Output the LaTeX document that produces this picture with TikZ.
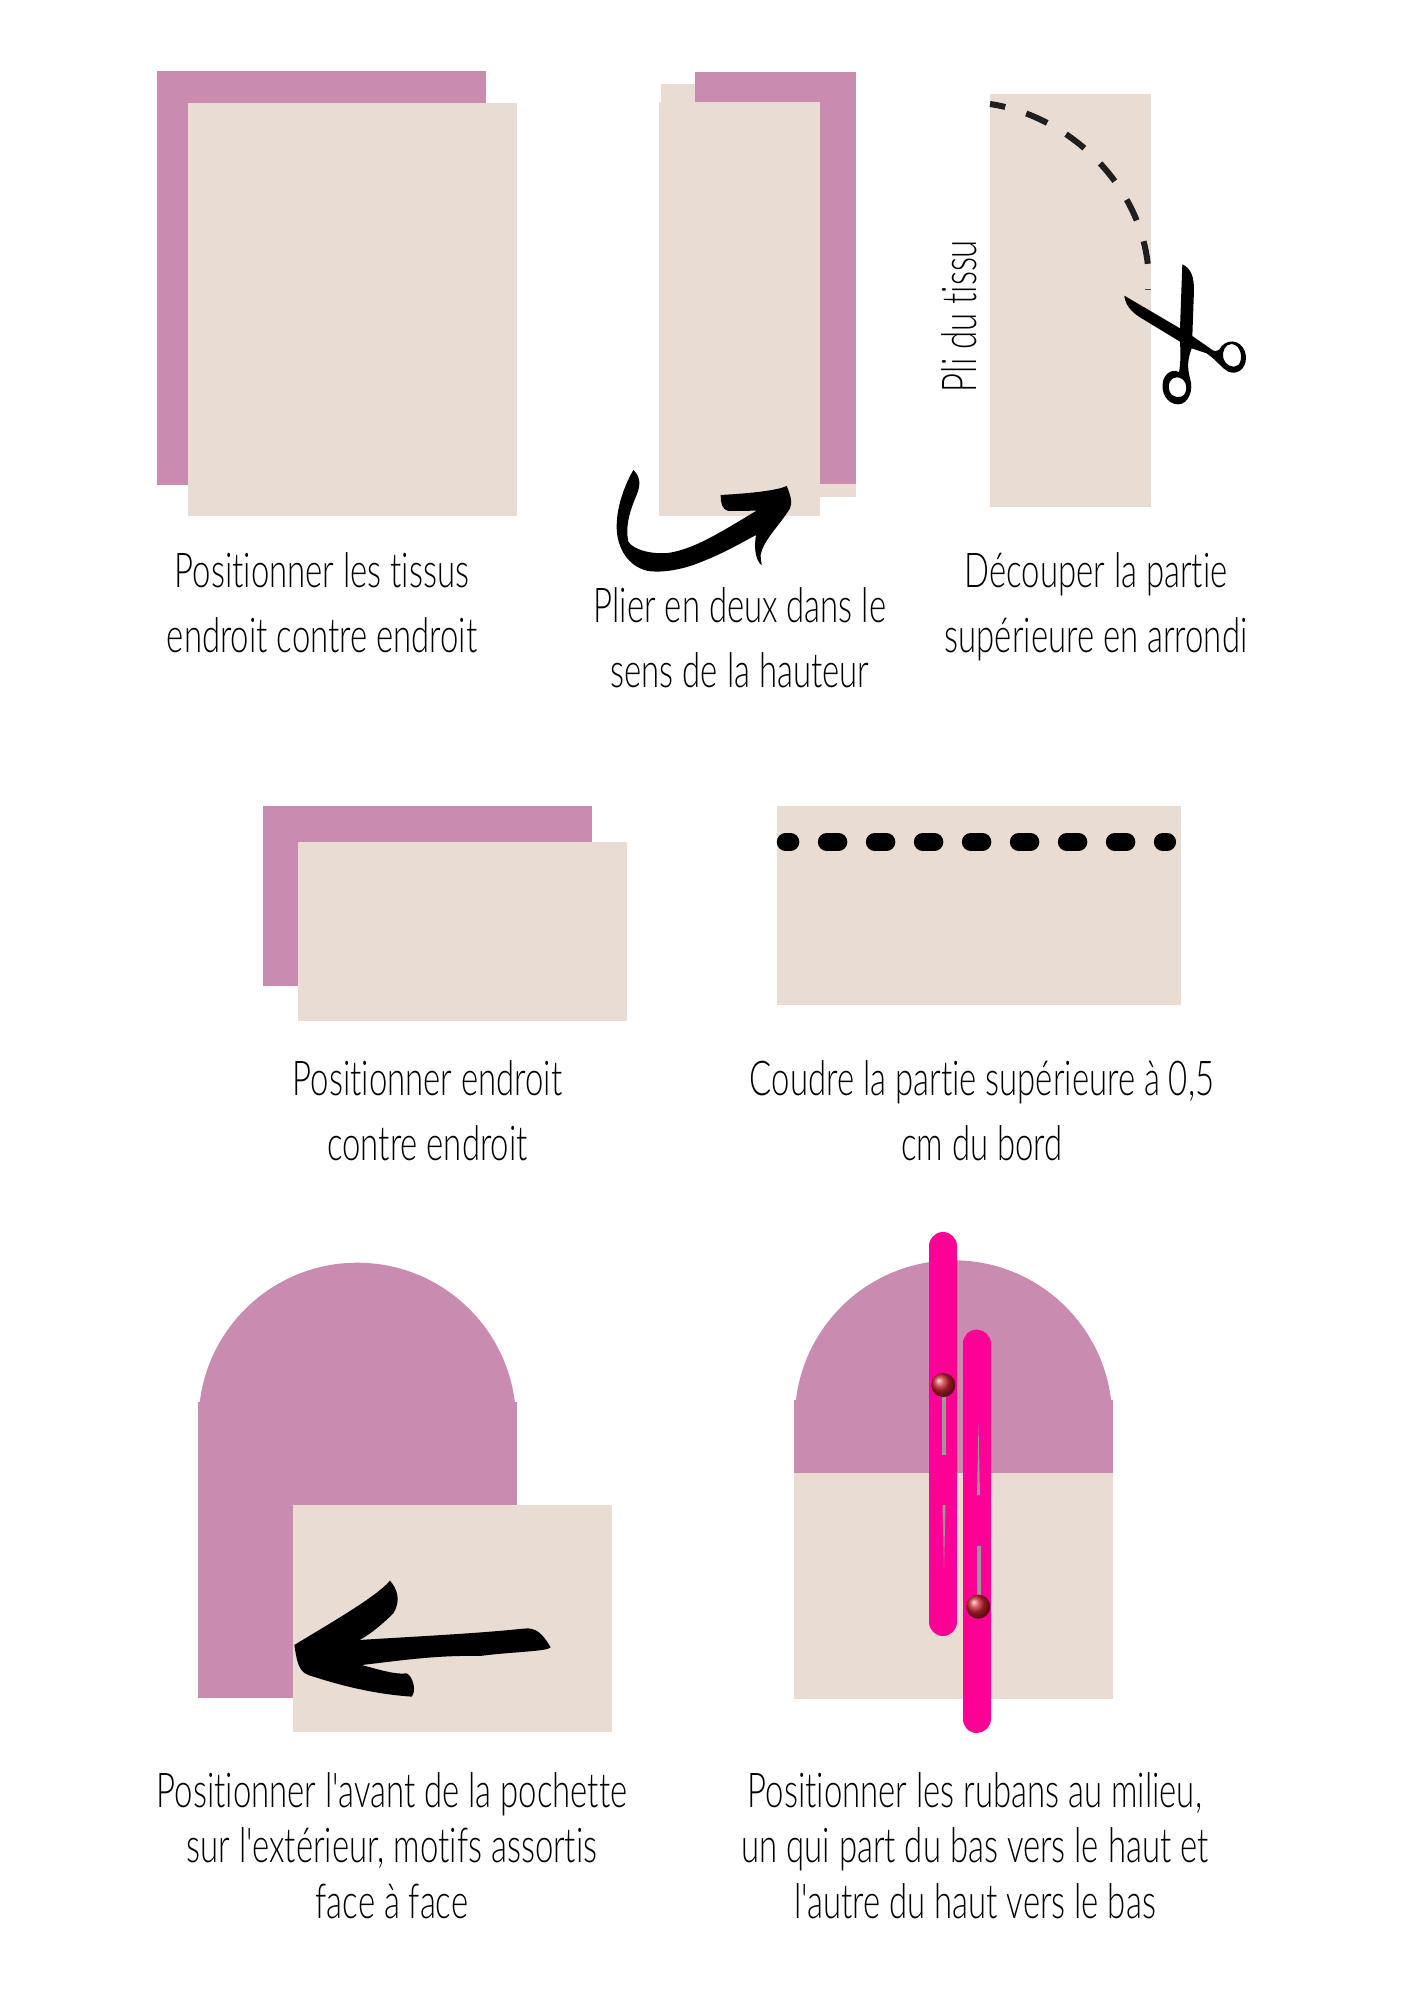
\documentclass[tikz,border=0pt]{standalone}
\usepackage{fontspec}
\setmainfont{Lato}[FakeStretch=0.685,UprightFont=* Light,Ligatures={TeXOff,NoCommon,NoRequired}]
\definecolor{pinkfab}{HTML}{C98BB0}
\definecolor{beigefab}{HTML}{E8DCD3}
\definecolor{ribbon}{HTML}{FF0097}
\definecolor{pinred}{HTML}{C8222C}
\tikzset{
  pinkshape/.style={fill=pinkfab,draw=none},
  beigeshape/.style={fill=beigefab,draw=none},
  caption/.style={align=center,anchor=base,inner sep=0pt,font=\fontsize{48}{65}\selectfont},
  captiontight/.style={align=center,anchor=base,inner sep=0pt,font=\fontsize{48}{55.5}\selectfont},
  ribbonline/.style={line width=28pt,line cap=round,color=ribbon},
  needle/.style={fill=black!40,draw=none},
  pinhead/.style={shading=ball,ball color=pinred,draw=none},
  ink/.style={fill=black,draw=none},
}
\begin{document}
\begin{tikzpicture}[x=1pt,y=-1pt]
\useasboundingbox (0,0) rectangle (1410,2000);
\fill[white] (0,0) rectangle (1410,2000);
% panel 1
\fill[pinkshape] (157,71) rectangle (486,485);
\fill[beigeshape] (188,103) rectangle (517,516);
\node[caption] (t1) at (322,652) {Positionner les tissus\\endroit contre endroit};
% panel 2
\fill[beigeshape] (661,84) rectangle (856,497);
\fill[pinkshape] (695,72) rectangle (856,484);
\fill[beigeshape] (659,102) rectangle (820,516);
\begin{scope}[shift={(600,460)},x=0.3333pt,y=-0.3333pt]
\fill[ink] (100,30) .. controls (122,50) and (122,75) .. (110,105)
  .. controls (90,150) and (75,200) .. (85,245)
  .. controls (100,270) and (160,285) .. (210,278)
  .. controls (290,265) and (380,205) .. (470,152)
  -- (385,153) .. controls (365,150) and (362,125) .. (362,105)
  .. controls (450,100) and (530,92) .. (560,78)
  .. controls (572,105) and (578,130) .. (570,145)
  .. controls (540,195) and (490,240) .. (482,285)
  .. controls (482,300) and (485,310) .. (485,316)
  .. controls (465,300) and (462,260) .. (468,225)
  .. controls (400,262) and (360,285) .. (280,315)
  .. controls (220,335) and (170,338) .. (140,332)
  .. controls (85,318) and (50,265) .. (50,200)
  .. controls (50,130) and (80,65) .. (100,30) -- cycle;
\end{scope}
\node[caption] (t2) at (740,687) {Plier en deux dans le\\sens de la hauteur};
% panel 3
\fill[beigeshape] (990,94) rectangle (1151,507);
\draw[line width=6pt,color=black!88,dash pattern=on 23pt off 22pt,dash phase=7.5pt] (990,104) .. controls (1070,116) and (1140,185) .. (1148,266);
\draw[line width=.8pt,color=black!70] (1145,289) -- (1151,289);
\begin{scope}[shift={(1110,250)},x=0.3333pt,y=-0.3333pt]
\fill[ink,even odd rule] (217,43) .. controls (245,55) and (252,85) .. (252,120)
  -- (247,258) -- (300,295) .. controls (312,305) and (320,306) .. (327,300)
  .. controls (345,265) and (390,265) .. (405,305)
  .. controls (418,350) and (385,378) .. (355,365)
  .. controls (335,355) and (325,335) .. (290,310)
  -- (245,295) .. controls (232,330) and (232,355) .. (240,385)
  .. controls (252,420) and (235,463) .. (205,463)
  .. controls (170,463) and (150,425) .. (160,390)
  .. controls (170,362) and (195,358) .. (207,366)
  .. controls (212,340) and (212,310) .. (210,275)
  -- (95,205) .. controls (60,185) and (45,160) .. (43,137)
  -- (210,235) -- cycle
  (365,282) .. controls (345,282) and (335,305) .. (340,325)
  .. controls (345,345) and (370,358) .. (385,345)
  .. controls (400,330) and (395,285) .. (365,282) -- cycle
  (200,382) .. controls (180,382) and (172,405) .. (178,422)
  .. controls (185,445) and (215,448) .. (225,430)
  .. controls (235,410) and (225,382) .. (200,382) -- cycle;
\end{scope}
\node[inner sep=0pt,rotate=90,anchor=base,font=\fontsize{48}{50}\selectfont] (t3a) at (976,316) {Pli du tissu};
\node[caption] (t3) at (1096,652) {Découper la partie\\supérieure en arrondi};
% panel 4
\fill[pinkshape] (263,806) rectangle (592,986);
\fill[beigeshape] (298,842) rectangle (627,1021);
\node[caption] (t4) at (427.5,1160) {Positionner endroit\\contre endroit};
% panel 5
\fill[beigeshape] (777,806) rectangle (1181,1005);
\draw[line width=17.7pt,line cap=round,color=black,dash pattern=on 11.8pt off 36.2pt,dash phase=6.9pt] (785.6,842) -- (1167.2,842);
\node[caption] (t5) at (982,1160) {Coudre la partie supérieure à 0,5\\cm du bord};
% panel 6
\fill[pinkshape] (198,1402) rectangle (516.7,1697.7);
\begin{scope}
\clip (190,1250) rectangle (525,1403);
\fill[pinkshape] (357.3,1421.4) circle (158.7);
\end{scope}
\fill[beigeshape] (293,1505) rectangle (612,1731.7);
\begin{scope}[shift={(180,1240)},x=0.3333pt,y=-0.3333pt]
\fill[ink] (343,1215) .. controls (450,1150) and (590,1070) .. (630,1022)
  .. controls (650,1045) and (665,1080) .. (640,1120)
  .. controls (600,1160) and (560,1190) .. (538,1200)
  .. controls (700,1190) and (900,1180) .. (1030,1166)
  .. controls (1070,1160) and (1090,1185) .. (1112,1222)
  .. controls (1100,1235) and (1000,1235) .. (900,1248)
  .. controls (760,1245) and (640,1265) .. (545,1275)
  .. controls (600,1290) and (650,1305) .. (680,1300)
  .. controls (700,1310) and (710,1355) .. (695,1370)
  .. controls (620,1365) and (520,1350) .. (385,1305)
  .. controls (355,1295) and (350,1260) .. (343,1215) -- cycle;
\end{scope}
\node[captiontight] (t6) at (392,1918) {Positionner l'avant de la pochette\\sur l'extérieur, motifs assortis\\face à face};
% panel 7
\fill[pinkshape] (794,1400) rectangle (1113,1472.5);
\begin{scope}
\clip (780,1250) rectangle (1125,1401);
\fill[pinkshape] (953.5,1419) circle (158.7);
\end{scope}
\fill[beigeshape] (794,1472.5) rectangle (1113,1699);
\draw[ribbonline] (943,1246) -- (943,1622);
\draw[ribbonline] (976.5,1343.6) -- (976.5,1719);
\fill[needle] (942,1385) rectangle (946,1454.6);
\fill[needle] (942.5,1505) -- (945.5,1505) -- (944,1567) -- cycle;
\shade[pinhead] (943.3,1385) circle (12);
\fill[needle] (976.5,1545.7) rectangle (981,1606.6);
\fill[needle] (977,1495) -- (980,1495) -- (978.5,1425) -- cycle;
\shade[pinhead] (978.3,1606.6) circle (12);
\node[captiontight] (t7) at (975,1918) {Positionner les rubans au milieu,\\un qui part du bas vers le haut et\\l'autre du haut vers le bas};
\end{tikzpicture}
\end{document}
